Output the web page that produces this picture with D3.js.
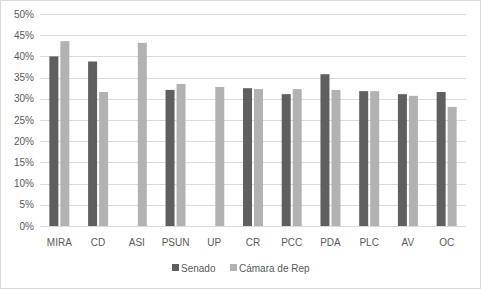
<!DOCTYPE html>
<html><head><meta charset="utf-8">
<script src="https://cdn.jsdelivr.net/npm/d3@7"></script>
<style>body{margin:0;background:#fff}svg{display:block}</style>
</head><body>
<script>
const categories = ["MIRA","CD","ASI","PSUN","UP","CR","PCC","PDA","PLC","AV","OC"];
const seriesNames = ["Senado","Cámara de Rep"];
const senado = [0.400,0.388,null,0.321,null,0.325,0.311,0.358,0.318,0.311,0.316];
const camara = [0.436,0.316,0.432,0.335,0.328,0.323,0.323,0.321,0.318,0.307,0.281];
const yTicks = [0,0.05,0.10,0.15,0.20,0.25,0.30,0.35,0.40,0.45,0.50];
const colors = ["#5f5f5f","#b2b2b2"];

const W=481,H=289;
const svg=d3.select("body").append("svg").attr("width",W).attr("height",H);
svg.append("rect").attr("x",0.5).attr("y",0.5).attr("width",W-1).attr("height",H-1)
  .attr("fill","#fff").attr("stroke","#d9d9d9");
const font="'Liberation Sans', Arial, sans-serif";
const x=d3.scaleBand().domain(categories).range([40,466]);
const y=d3.scaleLinear().domain([0,0.5]).range([226,14]);
const g=svg.append("g");
g.selectAll("line.grid").data(yTicks).join("line")
  .attr("x1",40).attr("x2",466).attr("y1",d=>Math.round(y(d))+0.5).attr("y2",d=>Math.round(y(d))+0.5)
  .attr("stroke","#d9d9d9").attr("stroke-width",1);
g.selectAll("text.yt").data(yTicks).join("text")
  .attr("x",34).attr("y",d=>y(d)).attr("dy","0.35em").attr("text-anchor","end")
  .attr("font-family",font).attr("font-size",10).attr("fill","#595959")
  .text(d=>d3.format(".0%")(d));
const bw=9, gap=2;
const data=[senado,camara];
data.forEach((arr,si)=>{
  g.selectAll("rect.s"+si).data(categories.map((c,i)=>({c,v:arr[i]})).filter(d=>d.v!=null)).join("rect")
    .attr("x",d=>x(d.c)+x.bandwidth()/2+(si===0?-(bw+gap/2):gap/2))
    .attr("width",bw).attr("y",d=>y(d.v)).attr("height",d=>y(0)-y(d.v))
    .attr("fill",colors[si]);
});
g.selectAll("text.xt").data(categories).join("text")
  .attr("x",d=>x(d)+x.bandwidth()/2).attr("y",242).attr("dy","0.35em").attr("text-anchor","middle")
  .attr("font-family",font).attr("font-size",10).attr("fill","#595959").text(d=>d);
// legend
const leg=svg.append("g");
const lx=[172,230];
seriesNames.forEach((n,i)=>{
  leg.append("rect").attr("x",lx[i]).attr("y",264).attr("width",7).attr("height",7).attr("fill",colors[i]);
  leg.append("text").attr("x",lx[i]+9).attr("y",268).attr("dy","0.35em")
    .attr("font-family",font).attr("font-size",10).attr("fill","#595959").text(n);
});
</script>
</body></html>
